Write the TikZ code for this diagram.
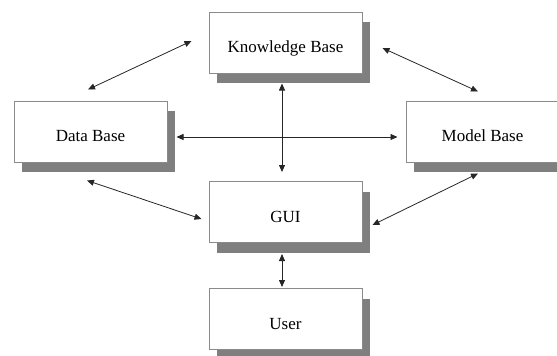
\documentclass[tikz,border=0pt]{standalone}
\usepackage{fontspec}
\setmainfont{Liberation Serif}
\usetikzlibrary{arrows.meta,shadows,calc}
\definecolor{shadowgray}{HTML}{7F7F7F}
\definecolor{framegray}{HTML}{8A8A8A}
\begin{document}
\begin{tikzpicture}[x=1pt,y=-1pt,
  module/.style={draw=framegray, line width=1pt, fill=white,
    minimum width=153pt, minimum height=61pt, inner sep=0pt,
    text height=20pt, text depth=0pt,
    font=\fontsize{17}{20}\selectfont,
    drop shadow={fill=shadowgray, opacity=1, shadow xshift=8pt, shadow yshift=-10pt}},
  link/.style={draw=black!85, line width=0.8pt,
    {Triangle[length=7pt,width=6pt]}-{Triangle[length=7pt,width=6pt]}}]
  \useasboundingbox (0,0) rectangle (557,356);

  % modules
  \node[module] (kb)   at (285.5,42.5)  {Knowledge Base};
  \node[module] (db)   at (90.5,131.5)  {Data Base};
  \node[module] (mb)   at (482.5,131.5) {Model Base};
  \node[module] (gui)  at (285.5,212)   {GUI};
  \node[module] (user) at (285.5,319)   {User};

  % links between modules
  \draw[link] ($(db.north)+(-2.5,-11)$) -- ($(kb.west)+(-17,-1.5)$);
  \draw[link] ($(kb.east)+(20,5.5)$) -- ($(mb.north)+(-4.5,-9)$);
  \draw[link] ($(db.south)+(-3.5,18)$) -- ($(gui.west)+(-7,7)$);
  \draw[link] ($(gui.east)+(10,13)$) -- ($(mb.south)+(-4.5,11)$);
  \draw[link] ($(db.east)+(9,5.5)$) -- ($(mb.west)+(-8,5.5)$);
  \draw[link] ($(kb.south)+(-3.5,10)$) -- ($(gui.north)+(-3.5,-9)$);
  \draw[link] ($(gui.south)+(-3.5,11)$) -- ($(user.north)+(-3.5,-1)$);
\end{tikzpicture}
\end{document}
